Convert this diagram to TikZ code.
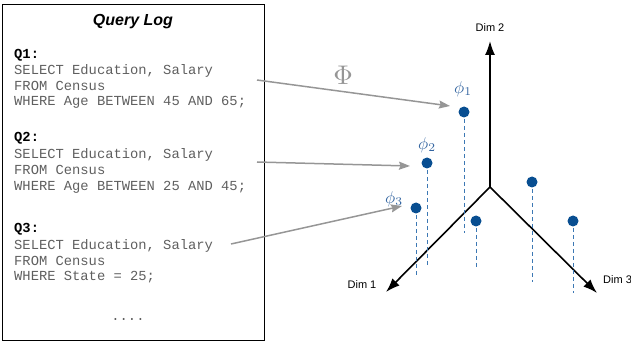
\documentclass[tikz,border=0pt]{standalone}
\usepackage{graphicx}
\usepackage{fontspec}
\setmainfont{Liberation Sans}
\newfontfamily\codefont{Liberation Mono}
\usetikzlibrary{arrows.meta}
\definecolor{codegray}{RGB}{95,95,95}
\definecolor{arrgray}{RGB}{150,150,150}
\definecolor{ptblue}{RGB}{8,78,145}
\definecolor{lblblue}{RGB}{50,100,160}
\definecolor{dashblue}{RGB}{60,120,180}
\tikzset{
  codeline/.style={anchor=base west, inner sep=0pt, text=codegray, font=\codefont\fontsize{13.8}{16}\selectfont},
  qlabel/.style={anchor=base west, inner sep=0pt, text=black, font=\codefont\bfseries\fontsize{13.8}{16}\selectfont},
  maparrow/.style={draw=arrgray, line width=1.5pt, -{Stealth[length=11pt,width=8pt,inset=1.5pt]}},
  axis/.style={draw=black, line width=1.6pt, -{Latex[length=14pt,width=10pt]}},
  pt/.style={circle, fill=ptblue, inner sep=0pt, minimum size=11pt},
  drop/.style={draw=dashblue, line width=1pt, dash pattern=on 4pt off 3pt},
  dimlbl/.style={font=\fontsize{11}{13}\selectfont, inner sep=0pt},
  philbl/.style={text=lblblue, inner sep=0pt},
}
\begin{document}
\begin{tikzpicture}[x=1pt,y=-1pt]
\useasboundingbox (0,0) rectangle (631,344);
% query log box
\node[draw=black, line width=1pt, minimum width=262pt, minimum height=336pt, inner sep=0pt, anchor=north west] (box) at (2,4) {};
\node[font=\bfseries\itshape\fontsize{16}{19}\selectfont, inner sep=0pt] (title) at (133,22) {Query Log};
% Q1
\node[qlabel] (q1) at (14,59) {Q1:};
\node[codeline] (q1a) at (14,75) {SELECT Education, Salary};
\node[codeline] (q1b) at (14,91) {FROM Census};
\node[codeline] (q1c) at (14,106) {WHERE Age BETWEEN 45 AND 65;};
% Q2
\node[qlabel] (q2) at (14,142) {Q2:};
\node[codeline] (q2a) at (14,159) {SELECT Education, Salary};
\node[codeline] (q2b) at (14,175) {FROM Census};
\node[codeline] (q2c) at (14,191) {WHERE Age BETWEEN 25 AND 45;};
% Q3
\node[qlabel] (q3) at (14,233) {Q3:};
\node[codeline] (q3a) at (14,250) {SELECT Education, Salary};
\node[codeline] (q3b) at (14,266) {FROM Census};
\node[codeline] (q3c) at (14,281) {WHERE State = 25;};
\node[codeline, anchor=base] (dots) at (128,320) {....};
% axes
\coordinate (O) at (490,187);
\coordinate (d2) at (490,41);
\coordinate (d1) at (386,292);
\coordinate (d3) at (597,293);
\draw[axis] (O) -- (d2);
\draw[axis] (O) -- (d1);
\draw[axis] (O) -- (d3);
\node[dimlbl] (l2) at (490,28) {Dim 2};
\node[dimlbl] (l1) at (362,285) {Dim 1};
\node[dimlbl, anchor=west] (l3) at (603,280) {Dim 3};
% points with drop lines
\coordinate (b1) at (464,233);
\coordinate (b2) at (427,267);
\coordinate (b3) at (416,275);
\coordinate (b4) at (476,268);
\coordinate (b5) at (532,282);
\coordinate (b6) at (573,293);
\draw[drop] (464,112) -- (b1);
\draw[drop] (427,163) -- (b2);
\draw[drop] (416,208) -- (b3);
\draw[drop] (476,221) -- (b4);
\draw[drop] (532,182) -- (b5);
\draw[drop] (573,221) -- (b6);
\node[pt] (p1) at (464,112) {};
\node[pt] (p2) at (427,163) {};
\node[pt] (p3) at (416,208) {};
\node[pt] (p4) at (476,221) {};
\node[pt] (p5) at (532,182) {};
\node[pt] (p6) at (573,221) {};
\node[philbl] (f1) at (463,89) {\scalebox{1.7}{$\phi_1$}};
\node[philbl] (f2) at (427,145) {\scalebox{1.7}{$\phi_2$}};
\node[philbl] (f3) at (394,199) {\scalebox{1.7}{$\phi_3$}};
% mapping arrows
\coordinate (a1s) at (257,80);
\coordinate (a1e) at (450,106);
\coordinate (a2s) at (257,162);
\coordinate (a2e) at (410,166);
\coordinate (a3s) at (231,244);
\coordinate (a3e) at (402,206);
\draw[maparrow] (a1s) -- (a1e);
\draw[maparrow] (a2s) -- (a2e);
\draw[maparrow] (a3s) -- (a3e);
\node[text=arrgray, inner sep=0pt] (Phi) at (343,75) {\scalebox{2.7}{$\Phi$}};
\end{tikzpicture}
\end{document}
